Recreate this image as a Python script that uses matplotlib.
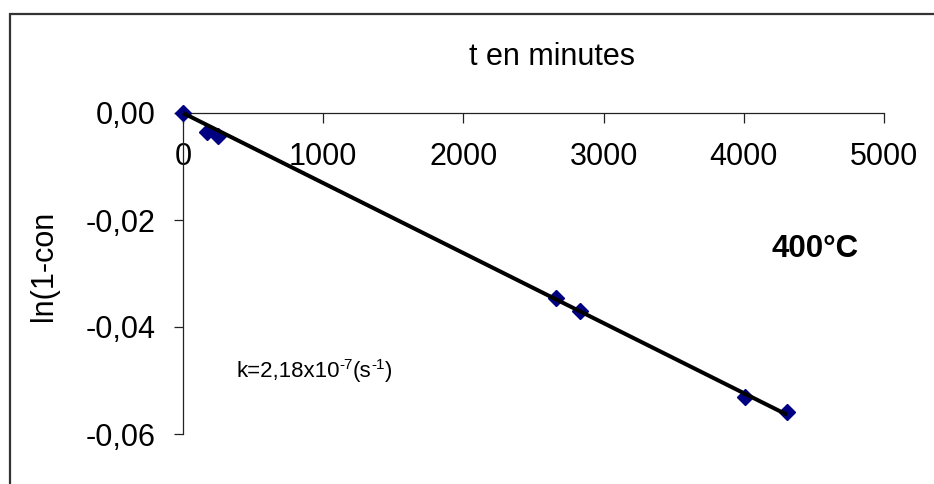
#import libraries
import numpy as np
import matplotlib.pyplot as plt
from matplotlib.patches import Rectangle

plt.rcParams['font.family'] = ['Liberation Sans', 'DejaVu Sans']

#data
t_min = [0, 171, 250, 2660, 2832, 4009, 4308]
ln_conv = [0.0, -0.0035, -0.0043, -0.0346, -0.0370, -0.0531, -0.0559]
xticks = [0, 1000, 2000, 3000, 4000, 5000]
yticks = [0.0, -0.02, -0.04, -0.06]
ylabels = ['0,00', '-0,02', '-0,04', '-0,06']

#linear fit through origin
t = np.array(t_min)
y = np.array(ln_conv)
slope = np.sum(t*y)/np.sum(t*t)
t_fit = np.array([0, t.max()])

W, H = 934, 484
fig = plt.figure(figsize=(W/100, H/100), dpi=100)
ax = fig.add_axes([183/W, 1-434/H, (884-183)/W, (434-113)/H])

ax.plot(t, y, 'D', color='#000080', markersize=8, zorder=3, clip_on=False)
ax.plot(t_fit, slope*t_fit, color='black', linewidth=2.9, zorder=4, solid_capstyle='butt', clip_on=False)

ax.set_xlim(0, 5000)
ax.set_ylim(-0.06, 0)
ax.spines['bottom'].set_position(('data', 0))
ax.spines['top'].set_visible(False)
ax.spines['right'].set_visible(False)
for s in ['left', 'bottom']:
    ax.spines[s].set_color('#222222')
    ax.spines[s].set_linewidth(0.9)
ax.set_xticks(xticks)
ax.set_yticks(yticks)
ax.set_yticklabels(ylabels)
ax.tick_params(axis='x', direction='out', length=7, width=0.9, pad=14, labelsize=22, color='#222222')
ax.tick_params(axis='y', direction='out', length=6.5, width=0.9, pad=13, labelsize=22, color='#222222')
ax.patch.set_visible(False)

#texts
fig.text(552/W, 1-57/H, 't en minutes', fontsize=22, ha='center', va='center')
fig.text(44/W, 1-266/H, 'ln(1-con', fontsize=22, rotation=90, ha='center', va='center')
fig.text(815/W, 1-249/H, '400°C', fontsize=22.5, fontweight='bold', ha='center', va='center')

#k annotation, pieces placed one after the other (hyphen as minus like the original)
renderer = fig.canvas.get_renderer()
x = 236
base = 377
pieces = [('k=2,18x10', 16, 0), ('-7', 11, 8), ('(s', 16, 0), ('-1', 11, 8), (')', 16, 0)]
for txt, size, rise in pieces:
    tt = fig.text(x/W, 1-(base-rise)/H, txt, fontsize=size, ha='left', va='baseline')
    bb = tt.get_window_extent(renderer)
    x = bb.x1

#chart border
fig.patches.append(Rectangle((10/W, -0.2), 1.2, 1.2-14/H, transform=fig.transFigure,
                             fill=False, edgecolor='#333333', linewidth=1.6))

plt.savefig('out.png', dpi=100)
